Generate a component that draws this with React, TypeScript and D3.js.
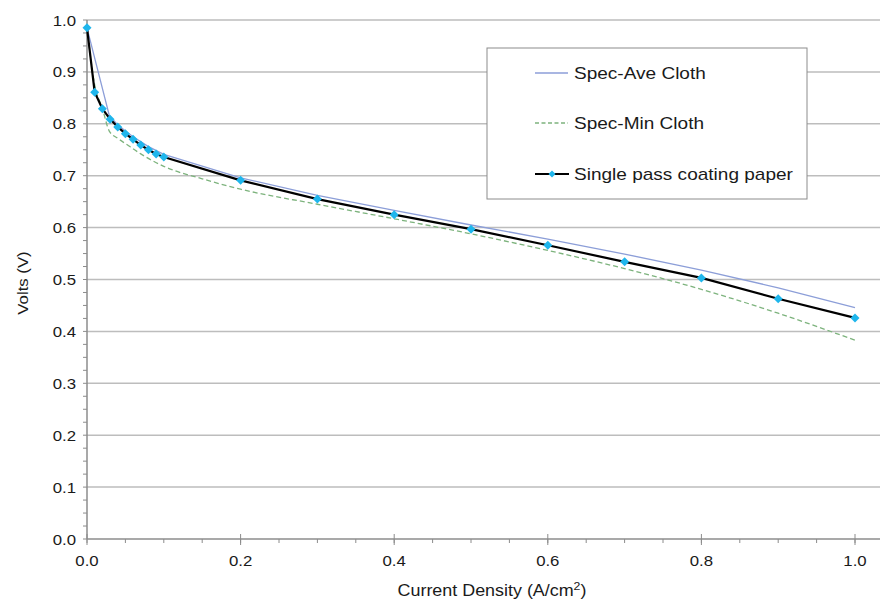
import React from "react";
import * as d3 from "d3";

const xTicks = [0, 0.2, 0.4, 0.6, 0.8, 1.0];
const yTicks = [0, 0.1, 0.2, 0.3, 0.4, 0.5, 0.6, 0.7, 0.8, 0.9, 1.0];

const paperX = [0, 0.01, 0.02, 0.03, 0.04, 0.05, 0.06, 0.07, 0.08, 0.09, 0.1, 0.2, 0.3, 0.4, 0.5, 0.6, 0.7, 0.8, 0.9, 1.0];
const paperV = [0.985, 0.861, 0.829, 0.809, 0.794, 0.781, 0.770, 0.759, 0.750, 0.742, 0.736, 0.691, 0.655, 0.625, 0.597, 0.566, 0.534, 0.503, 0.463, 0.426];

const aveX = [0, 0.029, 0.04, 0.05, 0.06, 0.08, 0.1, 0.2, 0.3, 0.4, 0.5, 0.6, 0.7, 0.8, 0.9, 1.0];
const aveV = [0.985, 0.816, 0.798, 0.786, 0.775, 0.756, 0.741, 0.696, 0.662, 0.633, 0.605, 0.578, 0.549, 0.518, 0.484, 0.446];

const minX = [0, 0.01, 0.02, 0.029, 0.04, 0.05, 0.07, 0.1, 0.15, 0.2, 0.3, 0.4, 0.5, 0.6, 0.7, 0.8, 0.9, 1.0];
const minV = [0.985, 0.875, 0.83, 0.786, 0.772, 0.762, 0.742, 0.718, 0.694, 0.674, 0.645, 0.617, 0.588, 0.556, 0.521, 0.481, 0.435, 0.383];

const legendLabels = ["Spec-Ave Cloth", "Spec-Min Cloth", "Single pass coating paper"];

const SX = 1.12;

function T(props: { x: number; y: number; anchor?: string; size: number; rotate?: number; children: React.ReactNode }) {
  const { x, y, anchor = "start", size, rotate = 0, children } = props;
  return (
    <text
      transform={`translate(${x},${y}) rotate(${rotate}) scale(${SX},1)`}
      textAnchor={anchor}
      fontSize={size}
      fill="#1a1a1a"
    >
      {children}
    </text>
  );
}

export default function App() {
  const W = 882, H = 599;
  const x = d3.scaleLinear().domain([0, 1]).range([87, 855]);
  const y = d3.scaleLinear().domain([0, 1]).range([539, 20]);
  const plotRight = 880;
  const font = "'Liberation Sans', Arial, sans-serif";

  const line = d3.line<[number, number]>().x(d => x(d[0])).y(d => y(d[1]));
  const curve = d3.line<[number, number]>().x(d => x(d[0])).y(d => y(d[1])).curve(d3.curveMonotoneX);

  const paper: [number, number][] = paperX.map((v, i) => [v, paperV[i]]);
  const ave: [number, number][] = aveX.map((v, i) => [v, aveV[i]]);
  const mn: [number, number][] = minX.map((v, i) => [v, minV[i]]);

  const xMinor = d3.range(0, 1.0001, 0.05);
  const yMinor = d3.range(0, 1.0001, 0.025);

  const diamond = (cx: number, cy: number, r: number) =>
    `M${cx},${cy - r}L${cx + r},${cy}L${cx},${cy + r}L${cx - r},${cy}Z`;

  const lx = 487, ly = 48, lw = 320, lh = 151;
  const rows = [73, 123, 174];

  return (
    <svg width={W} height={H} style={{ position: "absolute", left: 0, top: 0, background: "#fff" }} fontFamily={font}>
      {yTicks.slice(1).map(t => (
        <line key={"g" + t} x1={x(0)} x2={plotRight} y1={y(t)} y2={y(t)} stroke="#bdbdbd" strokeWidth={1.5} />
      ))}
      <line x1={x(0)} x2={plotRight} y1={y(0)} y2={y(0)} stroke="#8c8c8c" strokeWidth={1.5} />
      <line x1={x(0)} x2={x(0)} y1={y(0)} y2={y(1)} stroke="#8c8c8c" strokeWidth={1.5} />
      {xMinor.map(t => (
        <line key={"xm" + t} x1={x(t)} x2={x(t)} y1={y(0)} y2={y(0) + 4} stroke="#8c8c8c" strokeWidth={1} />
      ))}
      {xTicks.map(t => (
        <line key={"xM" + t} x1={x(t)} x2={x(t)} y1={y(0) - 5} y2={y(0) + 6} stroke="#8c8c8c" strokeWidth={1} />
      ))}
      {yMinor.map(t => (
        <line key={"ym" + t} x1={x(0) - 4} x2={x(0)} y1={y(t)} y2={y(t)} stroke="#8c8c8c" strokeWidth={1} />
      ))}
      {yTicks.map(t => (
        <T key={"yl" + t} x={76} y={y(t) + 5.5} anchor="end" size={15}>{t.toFixed(1)}</T>
      ))}
      {xTicks.map(t => (
        <T key={"xl" + t} x={x(t)} y={566} anchor="middle" size={15}>{t.toFixed(1)}</T>
      ))}
      <T x={492} y={596} anchor="middle" size={16}>
        Current Density (A/cm<tspan dy={-6} fontSize={11}>2</tspan><tspan dy={6}>)</tspan>
      </T>
      <T x={28} y={283} anchor="middle" size={15} rotate={-90}>Volts (V)</T>

      <path d={curve(mn) || ""} fill="none" stroke="#7db37d" strokeWidth={1.3} strokeDasharray="5,3" />
      <path d={line(ave) || ""} fill="none" stroke="#8c9ed8" strokeWidth={1.3} />
      <path d={line(paper) || ""} fill="none" stroke="#000" strokeWidth={2.2} />
      {paper.map((d, i) => (
        <path key={"m" + i} d={diamond(x(d[0]), y(d[1]), 4.5)} fill="#1fb6ec" />
      ))}

      <rect x={lx} y={ly} width={lw} height={lh} fill="#fff" stroke="#8c8c8c" strokeWidth={1} />
      <line x1={535} x2={568} y1={rows[0]} y2={rows[0]} stroke="#8c9ed8" strokeWidth={1.3} />
      <line x1={535} x2={568} y1={rows[1]} y2={rows[1]} stroke="#7db37d" strokeWidth={1.3} strokeDasharray="4,2.5" />
      <line x1={535} x2={569} y1={rows[2]} y2={rows[2]} stroke="#000" strokeWidth={2.2} />
      <path d={diamond(552, rows[2], 3.5)} fill="#1fb6ec" />
      {legendLabels.map((s, i) => (
        <T key={s} x={574} y={rows[i] + 6} size={17}>{s}</T>
      ))}
    </svg>
  );
}
